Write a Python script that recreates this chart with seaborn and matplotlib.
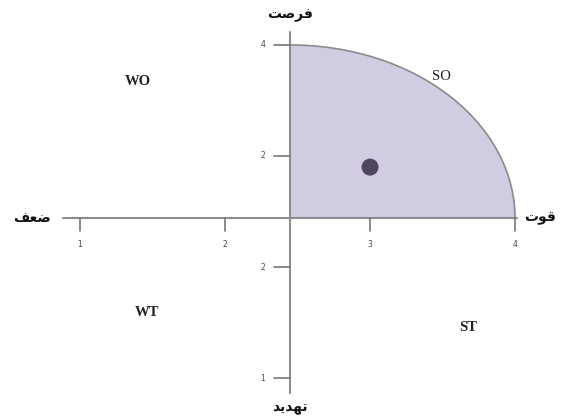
import matplotlib
matplotlib.use("Agg")

import numpy as np
import matplotlib.pyplot as plt
import seaborn as sns

sns.set_theme(style="white")

# مبدأ محورها و شعاع ربع دایره (واحد امتیاز)
origin_x, origin_y = 2.45, 2.44
radius_x, radius_y = 1.55, 1.56

# نقطه وضعیت سازمان
point_x = [3.0]
point_y = [2.9]

x_ticks = [1, 2, 3, 4]
x_tick_labels = ["1", "2", "3", "4"]
y_ticks = [4, 3, 2, 1]
y_tick_labels = ["4", "2", "2", "1"]

quadrant_names = ["WO", "SO", "WT", "ST"]

# برچسب‌های فارسی (شکل‌های نمایشی، ترتیب دیداری)
lbl_top = "\uFE96\uFEBB\uFEAE\uFED3"          # فرصت
lbl_bottom = "\uFEAA\uFEF3\uFEAA\uFEEC\uFE97"  # تهدید
lbl_left = "\uFED2\uFECC\uFEBF"               # ضعف
lbl_right = "\uFE95\uFEEE\uFED7"              # قوت

fig = plt.figure(figsize=(5.72, 4.19), dpi=100)
ax = fig.add_axes([0, 0, 1, 1])
ax.set_xlim(0.448, 4.393)
ax.set_ylim(0.631, 4.405)
ax.axis("off")

# ربع دایره
t = np.linspace(0, np.pi / 2, 200)
arc_x = origin_x + radius_x * np.cos(t)
arc_y = origin_y + radius_y * np.sin(t)
ax.fill_between(np.r_[origin_x, arc_x[::-1]], origin_y,
                np.r_[origin_y + radius_y, arc_y[::-1]],
                color="#d2cce2", lw=0, zorder=1)
sns.lineplot(x=arc_x, y=arc_y, sort=False, color="#8a8a8a", lw=1.2,
             ax=ax, zorder=2)

# محورها
axis_col = "#8c8c8c"
ax.plot([0.883, 4.014], [origin_y, origin_y], color=axis_col, lw=1.5, zorder=3)
ax.plot([origin_x, origin_x], [0.865, 4.117], color=axis_col, lw=1.5, zorder=3)

for v, lab in zip(x_ticks, x_tick_labels):
    ax.plot([v, v], [origin_y, origin_y - 0.12], color="#777777", lw=1.2, zorder=3)
    ax.text(v, 2.2, lab, ha="center", va="center", fontsize=5.5, color="#444444")
for v, lab in zip(y_ticks, y_tick_labels):
    ax.plot([origin_x - 0.11, origin_x], [v, v], color="#777777", lw=1.2, zorder=3)
    ax.text(2.262, v, lab, ha="center", va="center", fontsize=5.5, color="#444444")

sns.scatterplot(x=point_x, y=point_y, s=150, color="#4e4560", edgecolor="none",
                ax=ax, zorder=4)

quad_pos = [(1.40, 3.667), (3.49, 3.72), (1.46, 1.586), (3.676, 1.459)]
for name, (qx, qy) in zip(quadrant_names, quad_pos):
    ax.text(qx, qy, name, ha="center", va="center", fontsize=10.5,
            fontweight="bold" if name != "SO" else "normal",
            family=["Liberation Serif", "DejaVu Serif"], color="#222222")

arabic = dict(ha="center", va="center", fontsize=10, fontweight="bold",
              family=["DejaVu Sans"], color="#111111")
ax.text(origin_x, 4.27, lbl_top, **arabic)
ax.text(origin_x, 0.73, lbl_bottom, **arabic)
ax.text(0.669, origin_y, lbl_left, **arabic)
ax.text(4.17, origin_y, lbl_right, **arabic)

fig.savefig("out.png", dpi=100)
